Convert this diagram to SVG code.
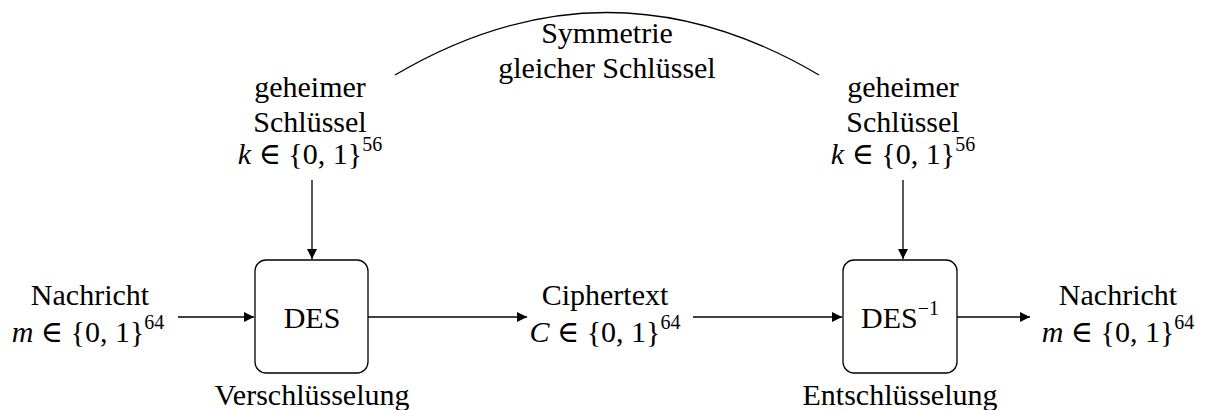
<svg xmlns="http://www.w3.org/2000/svg" width="1208" height="410" viewBox="0 0 1208 410">
<style>
text{font-family:"Liberation Serif","DejaVu Serif",serif;font-size:30px;fill:#000;text-anchor:middle}
.it{font-style:italic}
.sup{font-size:20px}
.box{fill:#fff;stroke:#000;stroke-width:1.3}
.ln{fill:none;stroke:#000;stroke-width:1.3}
</style>
<defs>
<marker id="ah" viewBox="0 0 10 10" refX="10" refY="5" markerWidth="11" markerHeight="10" markerUnits="userSpaceOnUse" orient="auto">
<path d="M0,0 L10,5 L0,10 z" fill="#000"/>
</marker>
</defs>
<g id="connectors">
<path class="ln" d="M178,317 H254" marker-end="url(#ah)"/>
<path class="ln" d="M368,317 H527" marker-end="url(#ah)"/>
<path class="ln" d="M693,317 H842" marker-end="url(#ah)"/>
<path class="ln" d="M957,317 H1030" marker-end="url(#ah)"/>
<path class="ln" d="M312,180 V259" marker-end="url(#ah)"/>
<path class="ln" d="M903,180 V259" marker-end="url(#ah)"/>
<path class="ln" d="M395,75 Q607,-50 819,75"/>
</g>
<g id="des">
<rect class="box" x="255" y="260" width="113" height="113" rx="11"/>
<text x="312" y="328">DES</text>
<text x="312" y="405">Verschlüsselung</text>
</g>
<g id="desinv">
<rect class="box" x="843" y="260" width="114" height="113" rx="11"/>
<text x="900" y="328">DES<tspan class="sup" dy="-13">−1</tspan></text>
<text x="900" y="405">Entschlüsselung</text>
</g>
<g id="msg-in">
<text x="90" y="305">Nachricht</text>
<text x="88" y="342"><tspan class="it">m</tspan> ∈ {0, 1}<tspan class="sup" dy="-13">64</tspan></text>
</g>
<g id="cipher">
<text x="605" y="305">Ciphertext</text>
<text x="605" y="342"><tspan class="it">C</tspan> ∈ {0, 1}<tspan class="sup" dy="-13">64</tspan></text>
</g>
<g id="msg-out">
<text x="1118" y="305">Nachricht</text>
<text x="1118" y="342"><tspan class="it">m</tspan> ∈ {0, 1}<tspan class="sup" dy="-13">64</tspan></text>
</g>
<g id="key-left">
<text x="310" y="97">geheimer</text>
<text x="310" y="132">Schlüssel</text>
<text x="310" y="164"><tspan class="it">k</tspan> ∈ {0, 1}<tspan class="sup" dy="-13">56</tspan></text>
</g>
<g id="key-right">
<text x="903" y="97">geheimer</text>
<text x="903" y="132">Schlüssel</text>
<text x="903" y="164"><tspan class="it">k</tspan> ∈ {0, 1}<tspan class="sup" dy="-13">56</tspan></text>
</g>
<g id="symmetry">
<text x="607" y="43">Symmetrie</text>
<text x="607" y="78">gleicher Schlüssel</text>
</g>
</svg>
